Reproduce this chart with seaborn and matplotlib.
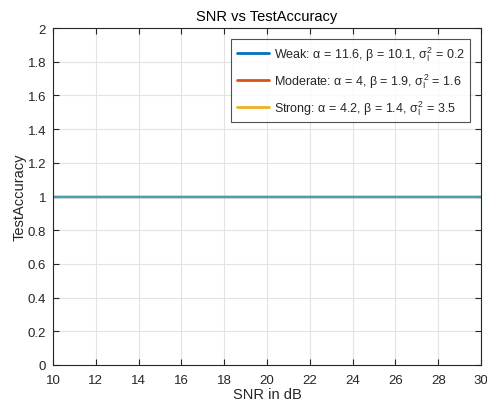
import numpy as np
import pandas as pd
import seaborn as sns
import matplotlib
matplotlib.use("Agg")
import matplotlib.pyplot as plt
from matplotlib.lines import Line2D

snr = [10, 30]
weak = [1.0, 1.0]
moderate = [1.0, 1.0]
strong = [1.0, 1.0]
labels = [
    r"Weak: α = 11.6, β = 10.1, $\sigma_{\mathrm{I}}^{2}$ = 0.2",
    r"Moderate: α = 4, β = 1.9, $\sigma_{\mathrm{I}}^{2}$ = 1.6",
    r"Strong: α = 4.2, β = 1.4, $\sigma_{\mathrm{I}}^{2}$ = 3.5",
]
colors = ["#0072BD", "#D95319", "#EDB120"]
overlap_color = "#4A9FAE"

sns.set_theme(style="whitegrid")
plt.rcParams["font.family"] = ["Liberation Sans", "DejaVu Sans"]
plt.rcParams["mathtext.fontset"] = "custom"
plt.rcParams["mathtext.rm"] = "Liberation Sans"
plt.rcParams["mathtext.it"] = "Liberation Sans"

df = pd.DataFrame({
    "SNR": snr * 3,
    "Acc": weak + moderate + strong,
    "series": [labels[0]] * 2 + [labels[1]] * 2 + [labels[2]] * 2,
})

fig = plt.figure(figsize=(4.87, 4.02), dpi=100)
ax = fig.add_axes([53 / 487, 1 - 366 / 402, (481 - 53) / 487, (366 - 29) / 402])
sns.lineplot(data=df, x="SNR", y="Acc", hue="series", palette=colors,
             linewidth=1.6, ax=ax, legend=False)
# overlapped appearance of the identical curves
ax.lines[-1].set_color(overlap_color)

ax.set_xlim(10, 30)
ax.set_ylim(0, 2)
ax.set_xticks(np.arange(10, 31, 2))
ax.set_yticks(np.round(np.arange(0, 2.01, 0.2), 1))
ax.set_yticklabels([("%g" % v) for v in np.round(np.arange(0, 2.01, 0.2), 1)])
ax.set_facecolor("white")
ax.grid(True, color="#e3e3e3", linewidth=0.8)
for s in ax.spines.values():
    s.set_color("#262626")
    s.set_linewidth(0.8)
ax.tick_params(direction="in", length=4, width=0.8, colors="#262626",
               labelsize=9.5, top=True, right=True, bottom=True, left=True,
               labelcolor="#262626")
ax.tick_params(axis="x", pad=6.5)
ax.tick_params(axis="y", pad=5)
ax.set_xlabel("SNR in dB", fontsize=10.5, color="#262626", labelpad=1)
ax.set_ylabel("TestAccuracy", fontsize=10.5, color="#262626", labelpad=1)
ax.set_title("SNR vs TestAccuracy", fontsize=10.5, color="black", pad=6)

handles = [Line2D([0], [0], color=c, lw=2) for c in colors]
leg = ax.legend(handles, labels, loc="upper right", fontsize=9,
                frameon=True, fancybox=False, handlelength=2.6,
                borderaxespad=0.85, labelspacing=0.65, handletextpad=0.35,
                borderpad=0.45, bbox_to_anchor=(1.0, 1.0))
leg.get_frame().set_edgecolor("#262626")
leg.get_frame().set_linewidth(0.8)

fig.savefig("out.png", dpi=100)
